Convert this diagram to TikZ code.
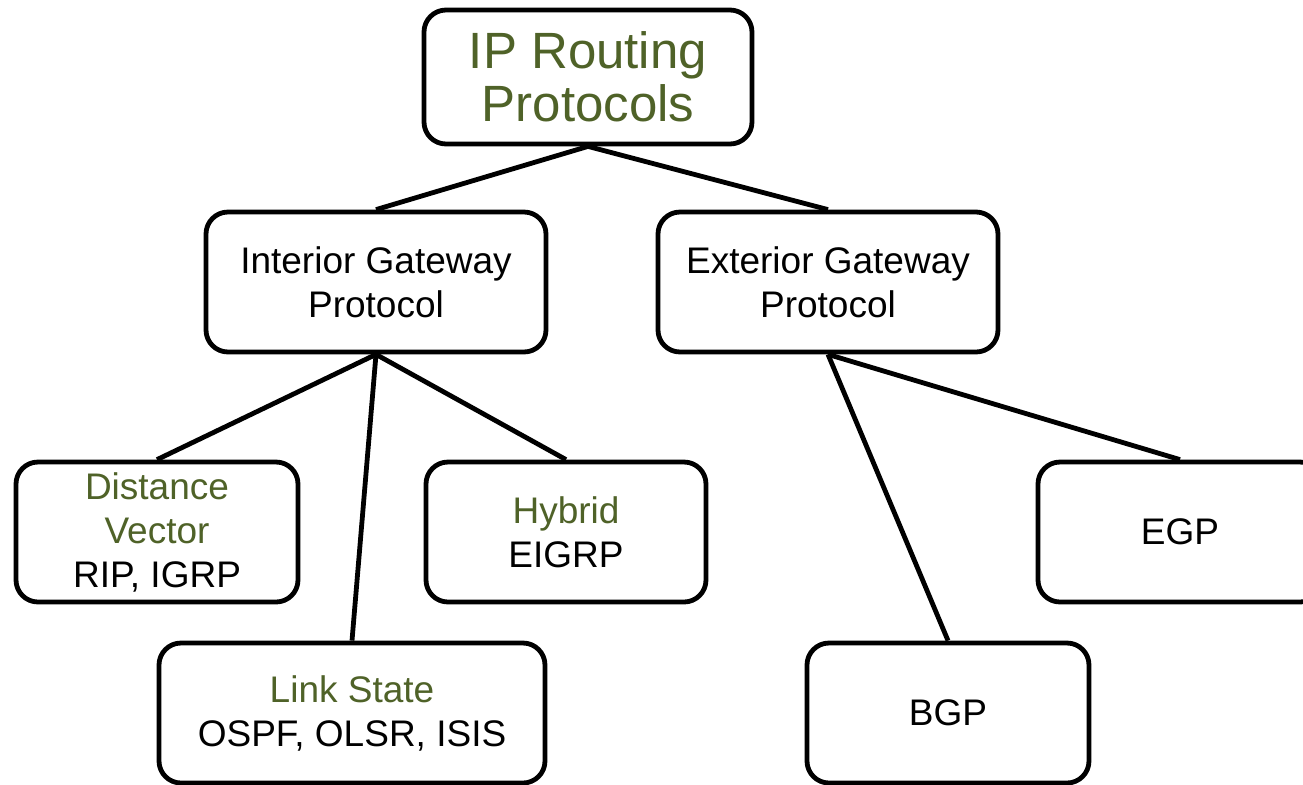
\documentclass[tikz,border=0pt]{standalone}
\usepackage{fontspec}
\setmainfont{Liberation Sans}
\definecolor{leafgreen}{RGB}{79,98,40}
\newcommand{\gr}[1]{\textcolor{leafgreen}{#1}}
\tikzset{
    box/.style={draw, line width=2.4pt, rounded corners=11pt, fill=white, align=center,
        minimum height=70pt, font=\fontsize{18.5}{22}\selectfont},
    link/.style={line width=2.4pt}
}
\begin{document}
\begin{tikzpicture}[x=0.5pt, y=-0.5pt]
            \useasboundingbox (0,0) rectangle (1303,784);
            \begin{scope}
                \node[box, minimum width=164pt, minimum height=67pt,
                    font=\fontsize{25.5}{26.5}\selectfont] (ip) at (588,77) {\gr{IP Routing}\\\gr{Protocols}};

                \node[box, minimum width=170pt] (igp) at (376,282) {Interior Gateway\\Protocol};
                \node[box, minimum width=170pt] (egp) at (828,282) {Exterior Gateway\\Protocol};

                \node[box, minimum width=141pt] (dv) at (157,532) {\gr{Distance}\\\gr{Vector}\\RIP, IGRP};
                \node[box, minimum width=140pt] (hybrid) at (566,532) {\gr{Hybrid}\\EIGRP};
                \node[box, minimum width=193pt] (ls) at (352,713) {\gr{Link State}\\OSPF, OLSR, ISIS};

                \node[box, minimum width=142pt] (egpleaf) at (1180,532) {EGP};
                \node[box, minimum width=141pt] (bgp) at (948,713) {BGP};

                \draw[link] (ip.south) -- (igp.north);
                \draw[link] (ip.south) -- (egp.north);

                \draw[link] (igp.south) -- (dv.north);
                \draw[link] (igp.south) -- (ls.north);
                \draw[link] (igp.south) -- (hybrid.north);

                \draw[link] (egp.south) -- (bgp.north);
                \draw[link] (egp.south) -- (egpleaf.north);

            \end{scope}
        \end{tikzpicture}
\end{document}
